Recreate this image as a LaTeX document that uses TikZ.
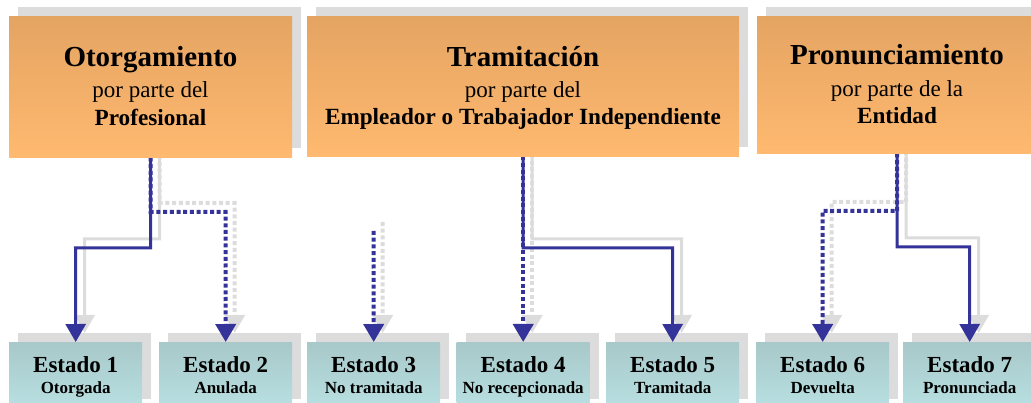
\documentclass[tikz,border=0pt]{standalone}
\usepackage{fontspec}
\setmainfont{Liberation Serif}
\usetikzlibrary{arrows.meta,backgrounds}
\definecolor{orT}{RGB}{228,164,98}
\definecolor{orB}{RGB}{255,185,112}
\definecolor{tlT}{RGB}{168,200,201}
\definecolor{tlB}{RGB}{184,224,226}
\definecolor{shd}{RGB}{220,220,220}
\definecolor{blu}{RGB}{51,51,153}
\begin{document}
\begin{tikzpicture}[x=1pt,y=-1pt,
  topbox/.style={rectangle,inner sep=0pt,anchor=north west,top color=orT,bottom color=orB,draw=none},
  stbox/.style={rectangle,inner sep=0pt,anchor=north west,top color=tlT,bottom color=tlB,draw=none,minimum width=133pt,minimum height=66pt},
  shadowoff/.style={shift={(9,-9)}},
  bl/.style={draw=blu,line width=3pt},
  gl/.style={draw=shd,line width=3pt},
  dotd/.style={line width=4pt,dash pattern=on 4pt off 2.7pt},
  arrowtip/.style={-{Triangle[width=20pt,length=18pt]}},
  ttl/.style={anchor=base,font=\bfseries\fontsize{29}{33}\selectfont},
  sub/.style={anchor=base,font=\fontsize{23}{27}\selectfont},
  who/.style={anchor=base,font=\bfseries\fontsize{23.2}{27}\selectfont},
  est/.style={anchor=base,font=\bfseries\fontsize{23}{27}\selectfont},
  estsub/.style={anchor=base,font=\bfseries\fontsize{17}{20}\selectfont}]
\useasboundingbox (0,0) rectangle (1031,403);
% top boxes
\node[topbox,minimum width=283pt,minimum height=141pt] (t1) at (9,16) {};
\node[topbox,minimum width=432pt,minimum height=140pt] (t2) at (307,16) {};
\node[topbox,minimum width=280pt,minimum height=137pt] (t3) at (757,16) {};
% state boxes
\node[stbox] (e1) at (9,342) {};
\node[stbox] (e2) at (159,342) {};
\node[stbox] (e3) at (307,342) {};
\node[stbox] (e4) at (456.5,342) {};
\node[stbox] (e5) at (606,342) {};
\node[stbox] (e6) at (756,342) {};
\node[stbox] (e7) at (903,342) {};
% bend coordinates
\coordinate (c1) at (75.5,248);
\coordinate (c2) at (225.5,212);
\coordinate (d3) at (373.5,231);
\coordinate (c5) at (672.5,248);
\coordinate (c6) at (822.5,211);
\coordinate (c7) at (969.5,247);
% texts
\node[ttl] (t1a) at (150.5,67) {Otorgamiento};
\node[sub] (t1b) at (150.5,98) {por parte del};
\node[who] (t1c) at (150.5,126) {Profesional};
\node[ttl] (t2a) at (523,67) {Tramitación};
\node[sub] (t2b) at (523,98) {por parte del};
\node[who] (t2c) at (523,125) {Empleador o Trabajador Independiente};
\node[ttl] (t3a) at (897,65) {Pronunciamiento};
\node[sub] (t3b) at (897,97) {por parte de la};
\node[who] (t3c) at (897,124) {Entidad};
\foreach \n/\a/\b in {1/Estado 1/Otorgada,2/Estado 2/Anulada,3/Estado 3/No tramitada,4/Estado 4/No recepcionada,5/Estado 5/Tramitada,6/Estado 6/Devuelta,7/Estado 7/Pronunciada}{
  \node[est] (e\n a) at ([yshift=-30pt]e\n.north) {\a};
  \node[estsub] (e\n b) at ([yshift=-51pt]e\n.north) {\b};
}
\begin{pgfonlayer}{background}
  % shadows
  \foreach \b in {t1,t2,t3,e1,e2,e3,e4,e5,e6,e7}{
    \fill[shd] ([shadowoff]\b.north west) rectangle ([shadowoff]\b.south east);
  }
  % gray shadow connectors
  \draw[gl,arrowtip] ([shadowoff]t1.south) |- ([shadowoff]c1) -- ([shadowoff]e1.north);
  \draw[gl,dotd,arrowtip] ([shadowoff]t1.south) |- ([shadowoff]c2) -- ([shadowoff]e2.north);
  \draw[gl,dotd,arrowtip] ([shadowoff]d3) -- ([shadowoff]e3.north);
  \draw[gl,dotd,arrowtip] ([shadowoff]t2.south) -- ([shadowoff]e4.north);
  \draw[gl,arrowtip] ([shadowoff]t2.south) |- ([shadowoff]c5) -- ([shadowoff]e5.north);
  \draw[gl,dotd,arrowtip] ([shadowoff]t3.south) |- ([shadowoff]c6) -- ([shadowoff]e6.north);
  \draw[gl,arrowtip] ([shadowoff]t3.south) |- ([shadowoff]c7) -- ([shadowoff]e7.north);
  % blue connectors
  \draw[bl,arrowtip] (t1.south) |- (c1) -- (e1.north);
  \draw[bl,dotd,arrowtip] (t1.south) |- (c2) -- (e2.north);
  \draw[bl,dotd,arrowtip] (d3) -- (e3.north);
  \draw[bl,dotd,arrowtip] (t2.south) -- (e4.north);
  \draw[bl,arrowtip] (t2.south) |- (c5) -- (e5.north);
  \draw[bl,dotd,arrowtip] (t3.south) |- (c6) -- (e6.north);
  \draw[bl,arrowtip] (t3.south) |- (c7) -- (e7.north);
\end{pgfonlayer}
\end{tikzpicture}
\end{document}
